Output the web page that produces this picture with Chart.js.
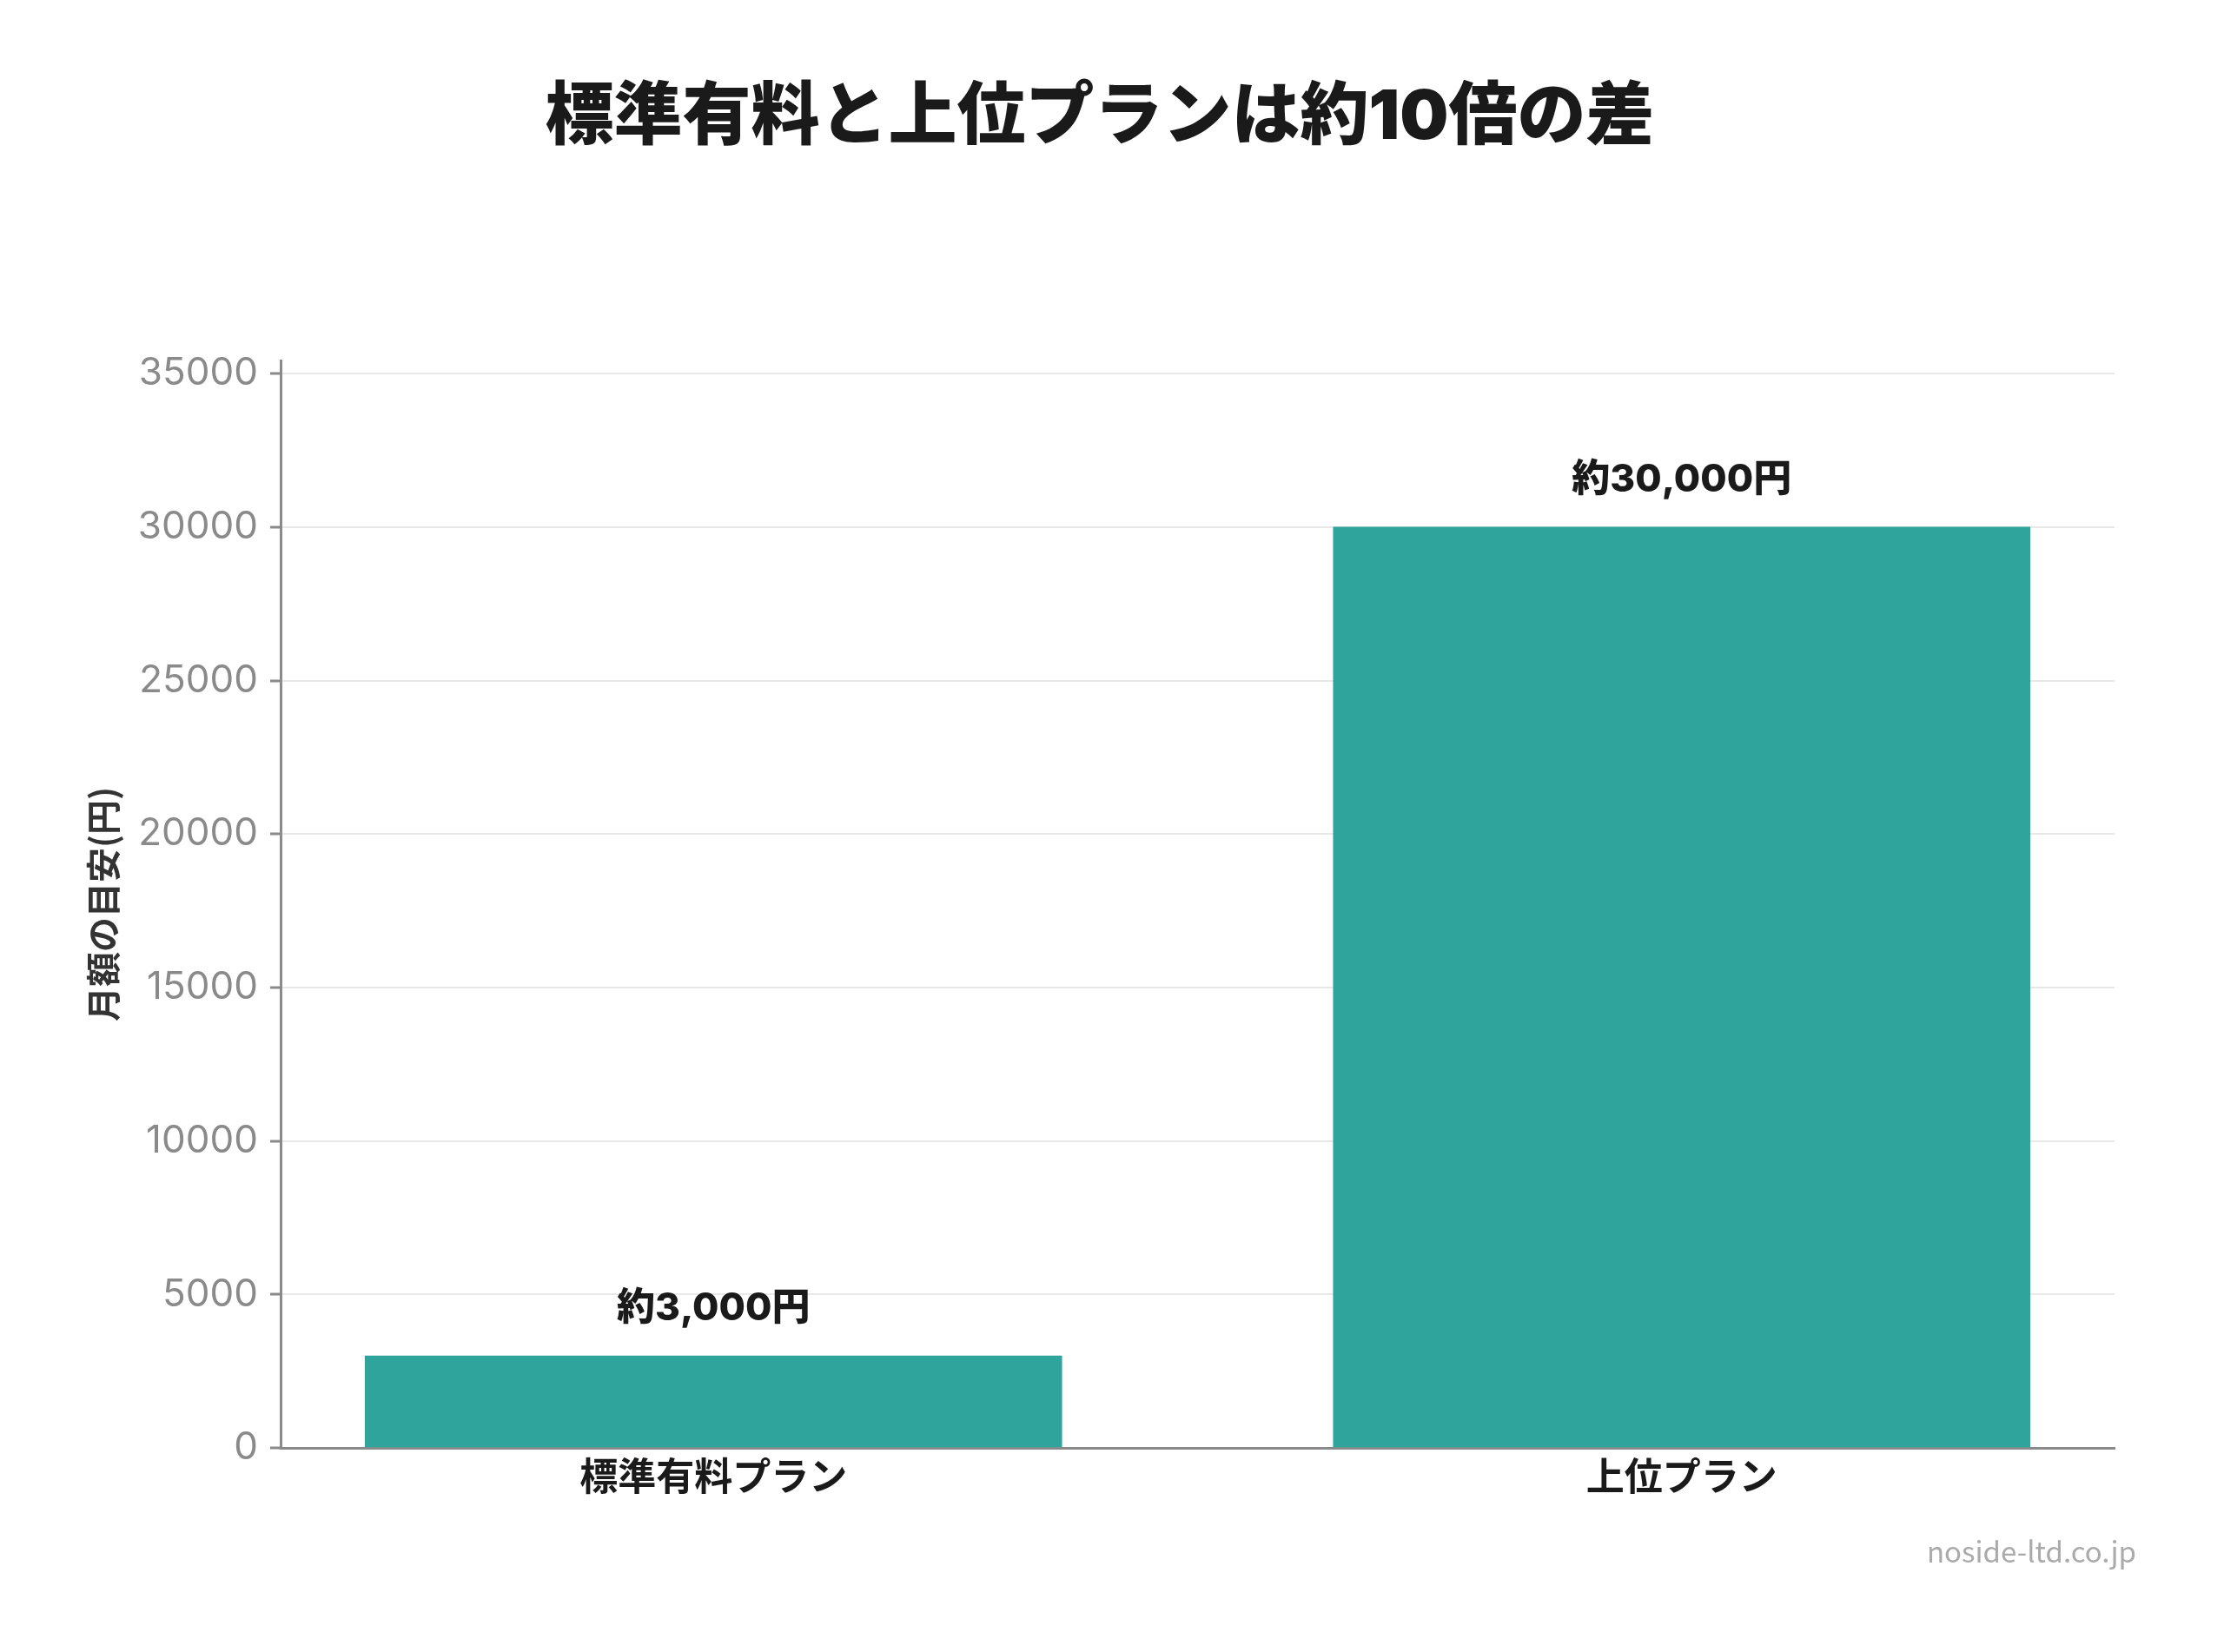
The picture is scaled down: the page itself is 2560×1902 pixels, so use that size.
<!DOCTYPE html>
<html lang="ja">
  <head>
    <meta charset="utf-8">
    <title>標準有料と上位プランは約10倍の差</title>
    <script src="https://cdn.jsdelivr.net/npm/chart.js@4/dist/chart.umd.min.js"></script>
    <style>
      html, body { margin: 0; padding: 0; background: #fff; }
      #wrap { width: 2560px; height: 1902px; }
    </style>
  </head>
  <body>
    <div id="wrap"><canvas id="chart" width="2560" height="1902"></canvas></div>

    <script type="text/javascript">

    var chartTitle = "標準有料と上位プランは約10倍の差"
    var planLabels = ["標準有料プラン", "上位プラン"]
    var planPositions = [0, 1]
    var monthlyCost = [3000, 30000]
    var valueLabels = ["約3,000円", "約30,000円"]
    var yTicks = [0, 5000, 10000, 15000, 20000, 25000, 30000, 35000]

    var jpFont = '"Noto Sans CJK JP", "Noto Sans", sans-serif'
    var mixFont = 'Inter, "Noto Sans CJK JP", sans-serif'
    var barColor = '#2EA49C'

    var points = []
    for (var i = 0; i < monthlyCost.length; i++) {
      points.push({ x: planPositions[i], y: monthlyCost[i] })
    }

    // value labels above each bar
    var valueLabelPlugin = {
      id: 'valueLabels',
      afterDatasetsDraw: function(chart) {
        var ctx = chart.ctx
        var meta = chart.getDatasetMeta(0)
        ctx.save()
        ctx.font = '800 44px ' + mixFont
        ctx.fillStyle = '#1a1a1a'
        ctx.textAlign = 'center'
        ctx.textBaseline = 'middle'
        meta.data.forEach(function(bar, idx) {
          ctx.fillText(valueLabels[idx], bar.x, bar.y - 54)
        })
        ctx.restore()
      }
    }

    // title + site name
    var textPlugin = {
      id: 'texts',
      afterDraw: function(chart) {
        var ctx = chart.ctx
        ctx.save()
        ctx.font = '900 79px ' + mixFont
        ctx.fillStyle = '#1a1a1a'
        ctx.textAlign = 'center'
        ctx.textBaseline = 'middle'
        ctx.fillText(chartTitle, 1266, 136)

        ctx.font = '33px ' + jpFont
        ctx.fillStyle = '#aaaaaa'
        ctx.textAlign = 'right'
        ctx.fillText('noside-ltd.co.jp', 2459, 1786)
        ctx.restore()
      }
    }

    var ctx = document.getElementById('chart').getContext('2d')
    var chart = new Chart(ctx, {
      type: 'bar',
      data: {
        datasets: [{
          data: points,
          backgroundColor: barColor,
          borderWidth: 0,
          barThickness: 802
        }]
      },
      plugins: [valueLabelPlugin, textPlugin],
      options: {
        responsive: false,
        animation: false,
        devicePixelRatio: 1,
        layout: { padding: { top: 415, right: 126, bottom: 0, left: 0 } },
        plugins: {
          legend: { display: false },
          tooltip: { enabled: false },
          title: { display: false }
        },
        scales: {
          x: {
            type: 'linear',
            offset: false,
            min: -0.447,
            max: 1.447,
            afterBuildTicks: function(scale) {
              scale.ticks = planPositions.map(function(v) { return { value: v } })
            },
            afterFit: function(scale) { scale.height = 235 },
            grid: { display: false, drawTicks: false },
            border: { display: true, color: '#8a8a8a', width: 3 },
            ticks: {
              padding: 6,
              color: '#1a1a1a',
              font: { family: jpFont, size: 44, weight: 'bold' },
              callback: function(value) { return planLabels[value] }
            }
          },
          y: {
            min: 0,
            max: 35430,
            afterBuildTicks: function(scale) {
              scale.ticks = yTicks.map(function(v) { return { value: v } })
            },
            afterFit: function(scale) { scale.width = 323 },
            grid: { color: '#e8e8e8', lineWidth: 2, tickColor: '#8a8a8a', tickLength: 12, tickWidth: 3 },
            border: { display: true, color: '#8a8a8a', width: 3 },
            ticks: {
              padding: 14,
              color: '#8a8a8a',
              font: { family: 'Inter, "Noto Sans", sans-serif', size: 44 },
              callback: function(value) { return String(value) }
            },
            title: {
              display: true,
              text: '月額の目安(円)',
              color: '#333333',
              font: { family: jpFont, size: 40, weight: 'bold', lineHeight: 1.2 },
              padding: { top: 95, bottom: 0 }
            }
          }
        }
      }
    })

    </script>
  </body>
</html>
